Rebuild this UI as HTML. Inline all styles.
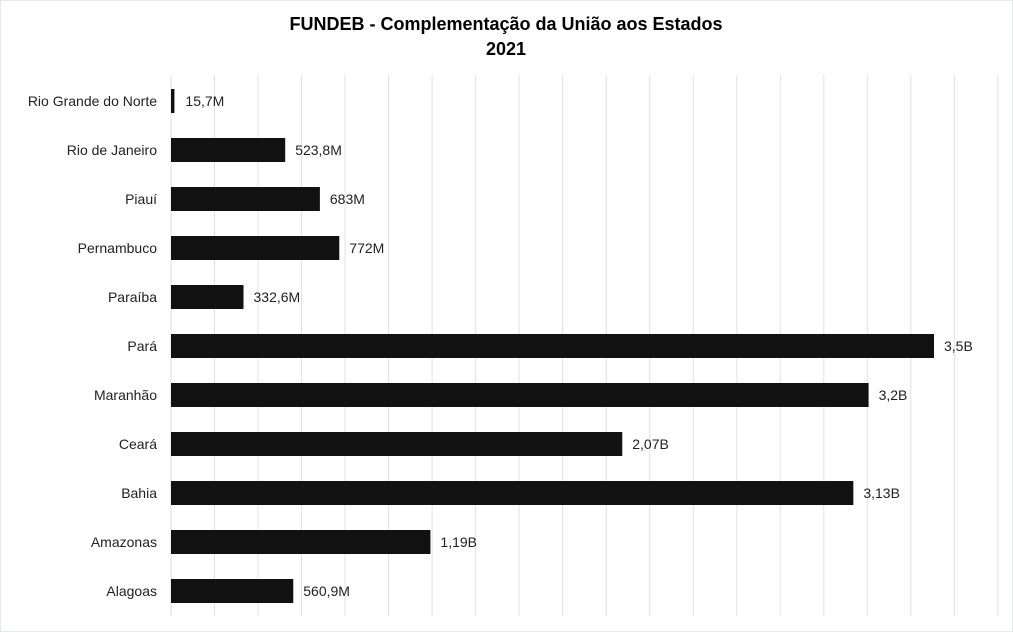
<!DOCTYPE html>
<html><head><meta charset="utf-8"><style>
body{margin:0;background:#fff;}
svg{display:block;font-family:"Liberation Sans",Arial,sans-serif;}
</style></head><body>
<svg id="c" width="1013" height="632">
<rect x="0.5" y="0.5" width="1012" height="631" fill="#fff" stroke="#e6e9ee"/>
<text x="506" y="30" text-anchor="middle" font-size="18" font-weight="bold">FUNDEB  - Complementação da União  aos Estados</text>
<text x="506" y="55" text-anchor="middle" font-size="18" font-weight="bold">2021</text>
<g id="grid"></g><g id="bars"></g>
</svg>
<script>
const categories=["Rio Grande do Norte","Rio de Janeiro","Piauí","Pernambuco","Paraíba","Pará","Maranhão","Ceará","Bahia","Amazonas","Alagoas"];
const values=[0.0157,0.5238,0.683,0.772,0.3326,3.5,3.2,2.07,3.13,1.19,0.5609];
const valueLabels=["15,7M","523,8M","683M","772M","332,6M","3,5B","3,2B","2,07B","3,13B","1,19B","560,9M"];
const gridTicks=[0,0.2,0.4,0.6,0.8,1,1.2,1.4,1.6,1.8,2,2.2,2.4,2.6,2.8,3,3.2,3.4,3.6,3.8];
const NS="http://www.w3.org/2000/svg";
const x0=171,pxPerUnit=218,gridPx=217.6;
const x=v=>x0+v*pxPerUnit;
const xg=v=>x0+v*gridPx;
const y=i=>101+i*49;
const grid=document.getElementById('grid'),bars=document.getElementById('bars');
function mk(t,a,p){const e=document.createElementNS(NS,t);for(const k in a)e.setAttribute(k,a[k]);p.appendChild(e);return e;}
gridTicks.forEach(t=>{
 const l=mk('line',{x1:xg(t),x2:xg(t),y1:75,y2:616,stroke:'#dfe2e5','stroke-width':1},grid);
 
 
});
categories.forEach((c,i)=>{
 const cy=y(i);
 const lab=mk('text',{x:157,y:cy+5,'text-anchor':'end','font-size':14,fill:'#222'},bars);lab.textContent=c;
 
 
 const w=Math.max(3,x(values[i])-x0);
 const r=mk('rect',{x:x0,y:cy-12,width:w,height:24,fill:'#111'},bars);
 
 
 const v=mk('text',{x:x0+w+(w<10?11:10),y:cy+5,'font-size':14,fill:'#222'},bars);v.textContent=valueLabels[i];
 
 
});
</script>
</body></html>
